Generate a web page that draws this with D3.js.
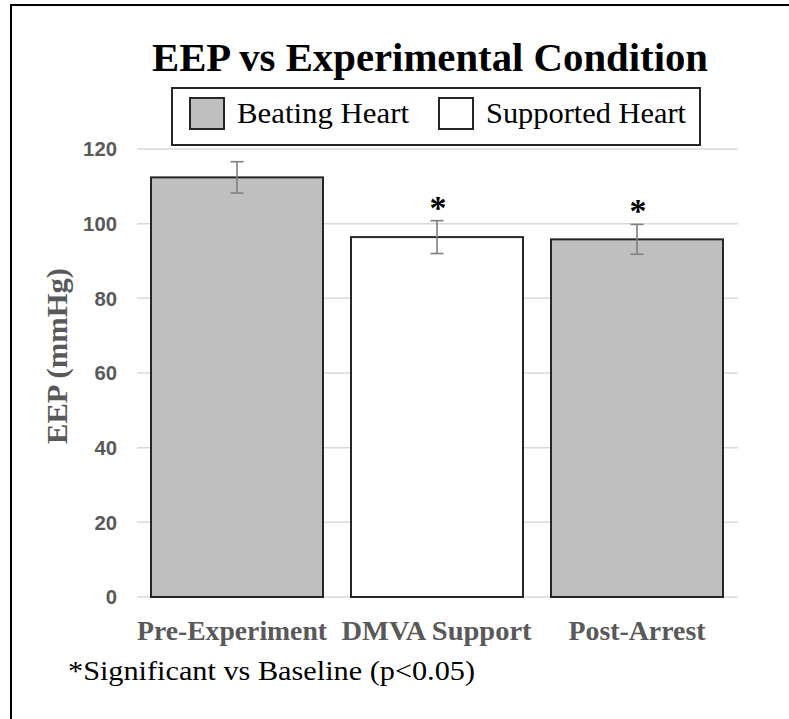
<!DOCTYPE html>
<html>
<head>
<meta charset="utf-8">
<style>
  body { margin:0; background:#fff; }
  svg { display:block; }
</style>
<script src="https://d3js.org/d3.v7.min.js"></script>
</head>
<body>
<script>
// chart values
var categories = ["Pre-Experiment", "DMVA Support", "Post-Arrest"];
var means = [112.4, 96.4, 95.8];
var errors = [4.2, 4.4, 4.0];
var groups = ["Beating Heart", "Supported Heart", "Beating Heart"];
var significant = [false, true, true];
var yTicks = [0, 20, 40, 60, 80, 100, 120];
var legendLabels = ["Beating Heart", "Supported Heart"];

var width = 789, height = 719;
var fills = { "Beating Heart": "#bfbfbf", "Supported Heart": "#ffffff" };
var serif = "'Liberation Serif', 'Times New Roman', serif";

var svg = d3.select("body").append("svg")
  .attr("width", width)
  .attr("height", height);

// outer frame (only top and left edge show in the reference)
svg.append("path")
  .attr("d", "M11,719 L11,5 L789,5")
  .attr("fill", "none")
  .attr("stroke", "#000")
  .attr("stroke-width", 2);

var x = d3.scaleBand()
  .domain(categories)
  .range([137, 737])
  .paddingInner(0.14)
  .paddingOuter(0.07);

var y = d3.scaleLinear()
  .domain([0, 120])
  .range([597, 149]);

// gridlines
svg.append("g").selectAll("line")
  .data(yTicks)
  .join("line")
  .attr("x1", 137)
  .attr("x2", 738)
  .attr("y1", d => y(d))
  .attr("y2", d => y(d))
  .attr("stroke", "#d9d9d9")
  .attr("stroke-width", 1.5);

// y axis labels
var yAxis = svg.append("g")
  .attr("transform", "translate(117,0)")
  .call(d3.axisLeft(y).tickValues(yTicks).tickSize(0).tickPadding(0));
yAxis.select(".domain").remove();
yAxis.selectAll("text")
  .attr("fill", "#595959")
  .style("font-family", "'Liberation Sans', Arial, sans-serif")
  .style("font-weight", "bold")
  .style("font-size", "21px")
  .attr("textLength", d => String(d).length * 11.3)
  .attr("lengthAdjust", "spacingAndGlyphs");

// bars
svg.append("g").selectAll("rect")
  .data(categories)
  .join("rect")
  .attr("x", d => x(d))
  .attr("y", (d, i) => y(means[i]))
  .attr("width", x.bandwidth())
  .attr("height", (d, i) => y(0) - y(means[i]))
  .attr("fill", (d, i) => fills[groups[i]])
  .attr("stroke", "#262626")
  .attr("stroke-width", 2);

// error bars
var eb = svg.append("g")
  .attr("stroke", "#7f7f7f")
  .attr("stroke-width", 1.6);
categories.forEach(function(c, i) {
  var cx = x(c) + x.bandwidth() / 2;
  var top = y(means[i] + errors[i]), bot = y(means[i] - errors[i]);
  eb.append("line").attr("x1", cx).attr("x2", cx).attr("y1", top).attr("y2", bot);
  eb.append("line").attr("x1", cx - 6.5).attr("x2", cx + 6.5).attr("y1", top).attr("y2", top);
  eb.append("line").attr("x1", cx - 6.5).attr("x2", cx + 6.5).attr("y1", bot).attr("y2", bot);
});

// significance markers
svg.append("g").selectAll("text")
  .data(categories.filter((c, i) => significant[i]))
  .join("text")
  .attr("x", d => x(d) + x.bandwidth() / 2 + 1)
  .attr("y", d => { var i = categories.indexOf(d); return y(means[i] + errors[i]) - 2; })
  .attr("text-anchor", "middle")
  .style("font-family", serif)
  .style("font-weight", "bold")
  .style("font-size", "34px")
  .attr("fill", "#000")
  .text("*");

// x category labels
svg.append("g").selectAll("text")
  .data(categories)
  .join("text")
  .attr("x", (d, i) => [232, 436.5, 637][i])
  .attr("y", 640)
  .attr("text-anchor", "middle")
  .attr("fill", "#595959")
  .style("font-family", serif)
  .style("font-weight", "bold")
  .style("font-size", "28px")
  .attr("textLength", (d, i) => [190, 190, 137][i])
  .attr("lengthAdjust", "spacingAndGlyphs")
  .text(d => d);

// y axis title
svg.append("text")
  .attr("transform", "translate(67,356) rotate(-90)")
  .attr("text-anchor", "middle")
  .attr("fill", "#595959")
  .style("font-family", serif)
  .style("font-weight", "bold")
  .style("font-size", "30px")
  .attr("textLength", 176)
  .attr("lengthAdjust", "spacingAndGlyphs")
  .text("EEP (mmHg)");

// chart title
svg.append("text")
  .attr("x", 430)
  .attr("y", 71)
  .attr("text-anchor", "middle")
  .style("font-family", serif)
  .style("font-weight", "bold")
  .style("font-size", "39px")
  .attr("textLength", 556)
  .attr("lengthAdjust", "spacingAndGlyphs")
  .text("EEP vs Experimental Condition");

// legend
var legend = svg.append("g");
legend.append("rect")
  .attr("x", 172).attr("y", 88)
  .attr("width", 528).attr("height", 57)
  .attr("fill", "#fff")
  .attr("stroke", "#262626")
  .attr("stroke-width", 2);
var legX = [190, 439], legW = [172, 200];
legendLabels.forEach(function(l, i) {
  legend.append("rect")
    .attr("x", legX[i]).attr("y", 98)
    .attr("width", 34).attr("height", 31)
    .attr("fill", fills[l])
    .attr("stroke", "#262626")
    .attr("stroke-width", 2);
  legend.append("text")
    .attr("x", legX[i] + 47).attr("y", 123)
    .style("font-family", serif)
    .style("font-size", "30px")
    .attr("textLength", legW[i])
    .attr("lengthAdjust", "spacingAndGlyphs")
    .text(l);
});

// footnote
svg.append("text")
  .attr("x", 68)
  .attr("y", 680)
  .style("font-family", serif)
  .style("font-size", "28px")
  .attr("textLength", 407)
  .attr("lengthAdjust", "spacingAndGlyphs")
  .text("*Significant vs Baseline (p<0.05)");
</script>
</body>
</html>
